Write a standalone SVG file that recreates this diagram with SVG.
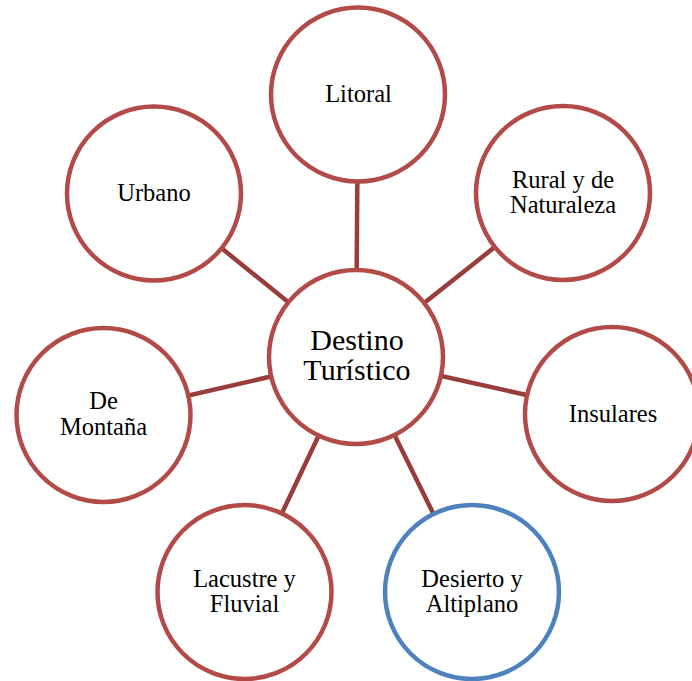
<svg xmlns="http://www.w3.org/2000/svg" width="692" height="681" viewBox="0 0 692 681">
<style>
.c{fill:#fff;stroke:#B24A47;stroke-width:4.5}
.b{fill:#fff;stroke:#4F81BD;stroke-width:4.5}
.l{stroke:#983D3B;stroke-width:4.5}
text{font-family:"Liberation Serif","Times New Roman",serif;font-size:24.5px;fill:#000;text-anchor:middle}
.big{font-size:30px}
</style>
<rect width="692" height="681" fill="#fff"/>
<g id="connectors">
<line class="l" x1="356" y1="357" x2="358" y2="95"/>
<line class="l" x1="356" y1="357" x2="563" y2="193"/>
<line class="l" x1="356" y1="357" x2="612" y2="414"/>
<line class="l" x1="356" y1="357" x2="472" y2="592"/>
<line class="l" x1="356" y1="357" x2="244.5" y2="592"/>
<line class="l" x1="356" y1="357" x2="103.5" y2="415"/>
<line class="l" x1="356" y1="357" x2="154" y2="193.5"/>
</g>
<g id="center">
<circle class="c" cx="356" cy="357" r="87"/>
<text class="big" x="357" y="350">Destino</text>
<text class="big" x="357" y="380">Turístico</text>
</g>
<g id="litoral">
<circle class="c" cx="358" cy="94.5" r="87"/>
<text x="358.5" y="102">Litoral</text>
</g>
<g id="rural">
<circle class="c" cx="563" cy="193" r="87"/>
<text x="563" y="188">Rural y de</text>
<text x="563" y="213">Naturaleza</text>
</g>
<g id="insulares">
<circle class="c" cx="612" cy="414" r="87"/>
<text x="613" y="422">Insulares</text>
</g>
<g id="desierto">
<circle class="b" cx="472" cy="592" r="87"/>
<text x="472" y="587">Desierto y</text>
<text x="472" y="612">Altiplano</text>
</g>
<g id="lacustre">
<circle class="c" cx="244.5" cy="592" r="87"/>
<text x="244.5" y="587">Lacustre y</text>
<text x="244.5" y="612">Fluvial</text>
</g>
<g id="montana">
<circle class="c" cx="103.5" cy="415" r="87"/>
<text x="103.5" y="409">De</text>
<text x="103.5" y="435">Montaña</text>
</g>
<g id="urbano">
<circle class="c" cx="154" cy="193.5" r="87"/>
<text x="154" y="201">Urbano</text>
</g>
</svg>
